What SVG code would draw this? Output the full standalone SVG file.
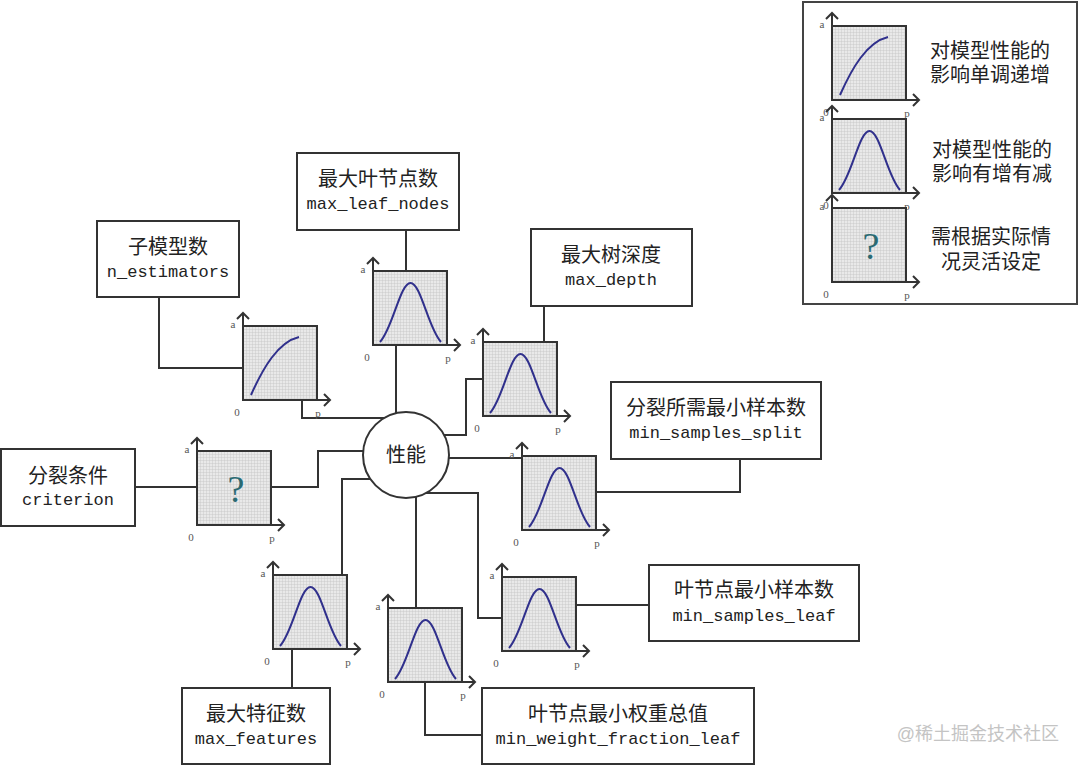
<svg xmlns="http://www.w3.org/2000/svg" xmlns:xlink="http://www.w3.org/1999/xlink" width="1080" height="766" viewBox="0 0 1080 766">
<style>
.box{fill:#fff;stroke:#333;stroke-width:2}
.cn{font-family:"Liberation Sans","Noto Sans CJK SC",sans-serif;font-size:20px;fill:#222;text-anchor:middle}
.mono{font-family:"Liberation Mono","DejaVu Sans Mono",monospace;font-size:17px;fill:#222;text-anchor:middle}
.ax{fill:none;stroke:#333;stroke-width:2}
.lbl{font-family:"Liberation Serif",serif;font-size:11px;fill:#555;text-anchor:middle}
.curve{fill:none;stroke:#30308c;stroke-width:2}
.q{font-family:"Liberation Serif",serif;font-size:38px;fill:#2a6a72;text-anchor:middle}
.conn path{fill:none;stroke:#333;stroke-width:2}
</style>
<defs>
<pattern id="grid" width="3" height="3" patternUnits="userSpaceOnUse">
<rect width="3" height="3" fill="#e9e9e9"/>
<path d="M0 0.25H3M0.25 0V3" stroke="#c2c2c2" stroke-width="0.5"/>
</pattern>
<g id="frame">
<rect x="0" y="0" width="74" height="74" fill="url(#grid)" stroke="#333" stroke-width="2"/>
<path class="ax" d="M0 74V-13M-6 -7L0 -13L6 -7M0 74H87M81 68L87 74L81 80"/>
<text class="lbl" x="-10" y="2">a</text>
<text class="lbl" x="-6" y="90">0</text>
<text class="lbl" x="75" y="91">p</text>
</g>
<g id="bell">
<use href="#frame"/>
<path class="curve" d="M7 71C20 57 27 12 37.5 12C48 12 55 57 68 71"/>
</g>
<g id="mono">
<use href="#frame"/>
<path class="curve" d="M8 69C20 42 35 16 56 11"/>
</g>
<g id="qchart">
<use href="#frame"/>
<text class="q" x="39" y="51">?</text>
</g>
</defs>
<rect width="1080" height="766" fill="#fff"/>

<g id="connectors" class="conn">
<path d="M159 297V368H243"/>
<path d="M302 401V418H406"/>
<path d="M406 230V271"/>
<path d="M396 345V455"/>
<path d="M544 306V342"/>
<path d="M483 379H466V435H406"/>
<path d="M740 458V492H596"/>
<path d="M406 458H522"/>
<path d="M577 605H649"/>
<path d="M406 493H478V618H502"/>
<path d="M416 608V455"/>
<path d="M425 682V735H482"/>
<path d="M342 575V479H406"/>
<path d="M292 648V688"/>
<path d="M135 487H197"/>
<path d="M272 487H318V451H406"/>
</g>

<g id="node-perf">
<circle cx="406" cy="455" r="43" fill="#fff" stroke="#333" stroke-width="2"/>
<text class="cn" x="406" y="462">性能</text>
</g>

<g id="chart-a"><use href="#mono" x="243" y="326"/></g>
<g id="chart-b"><use href="#bell" x="373" y="271"/></g>
<g id="chart-c"><use href="#bell" x="483" y="342"/></g>
<g id="chart-d"><use href="#bell" x="522" y="456"/></g>
<g id="chart-e"><use href="#bell" x="502" y="577"/></g>
<g id="chart-f"><use href="#bell" x="273" y="575"/></g>
<g id="chart-g"><use href="#bell" x="388" y="608"/></g>
<g id="chart-h"><use href="#qchart" x="197" y="451"/></g>

<g id="node-n-estimators">
<rect class="box" x="97" y="221" width="142" height="76"/>
<text class="cn" x="168" y="254">子模型数</text>
<text class="mono" x="168" y="277">n_estimators</text>
</g>
<g id="node-criterion">
<rect class="box" x="1" y="449" width="134" height="77"/>
<text class="cn" x="68" y="483">分裂条件</text>
<text class="mono" x="68" y="505">criterion</text>
</g>
<g id="node-max-leaf-nodes">
<rect class="box" x="297" y="153" width="162" height="77"/>
<text class="cn" x="378" y="186">最大叶节点数</text>
<text class="mono" x="378" y="209">max_leaf_nodes</text>
</g>
<g id="node-max-depth">
<rect class="box" x="531" y="229" width="161" height="77"/>
<text class="cn" x="611" y="262">最大树深度</text>
<text class="mono" x="611" y="285">max_depth</text>
</g>
<g id="node-min-samples-split">
<rect class="box" x="611" y="382" width="210" height="77"/>
<text class="cn" x="716" y="415">分裂所需最小样本数</text>
<text class="mono" x="716" y="438">min_samples_split</text>
</g>
<g id="node-min-samples-leaf">
<rect class="box" x="649" y="565" width="210" height="76"/>
<text class="cn" x="754" y="597">叶节点最小样本数</text>
<text class="mono" x="754" y="621">min_samples_leaf</text>
</g>
<g id="node-min-weight">
<rect class="box" x="482" y="688" width="272" height="76"/>
<text class="cn" x="618" y="721">叶节点最小权重总值</text>
<text class="mono" x="618" y="744">min_weight_fraction_leaf</text>
</g>
<g id="node-max-features">
<rect class="box" x="182" y="688" width="148" height="76"/>
<text class="cn" x="256" y="721">最大特征数</text>
<text class="mono" x="256" y="744">max_features</text>
</g>

<g id="legend">
<rect x="803" y="2" width="274" height="302" fill="#fff" stroke="#444" stroke-width="2"/>
<use href="#mono" x="832" y="26"/>
<use href="#bell" x="832" y="119"/>
<use href="#qchart" x="832" y="208"/>
<text class="cn" x="990" y="58">对模型性能的</text>
<text class="cn" x="990" y="82">影响单调递增</text>
<text class="cn" x="992" y="157">对模型性能的</text>
<text class="cn" x="992" y="181">影响有增有减</text>
<text class="cn" x="991" y="244">需根据实际情</text>
<text class="cn" x="991" y="269">况灵活设定</text>
</g>

<text x="1059" y="740" font-family="'Liberation Sans','Noto Sans CJK SC',sans-serif" font-size="18" fill="#c4c4c4" text-anchor="end">@稀土掘金技术社区</text>
</svg>
